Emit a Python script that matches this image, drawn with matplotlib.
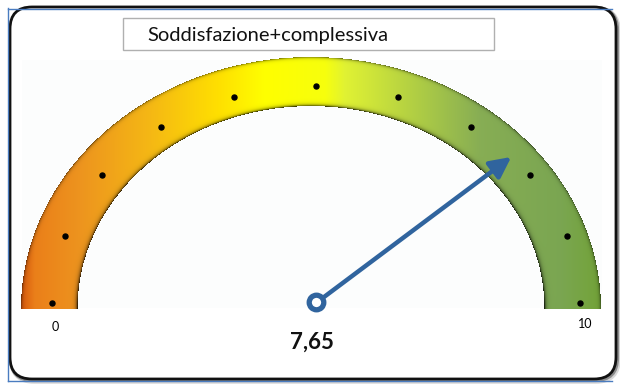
import matplotlib.pyplot as plt
import numpy as np
from matplotlib.patches import FancyBboxPatch, Rectangle

# gauge data
title = "Soddisfazione+complessiva"
value = 7.65
value_label = "7,65"
scale_min, scale_max = 0, 10
tick_values = list(range(0, 11))

W, H = 620, 384
fig = plt.figure(figsize=(W / 100, H / 100), dpi=100)
ax = fig.add_axes([0, 0, 1, 1])
ax.set_xlim(0, W)
ax.set_ylim(H, 0)
ax.axis("off")

# outer frame with soft shadow
for off, lw, a in [(2.0, 4.0, 0.15), (1.0, 3.0, 0.35)]:
    ax.add_patch(FancyBboxPatch((10 + off, 7 + off), 606, 372,
                                boxstyle="round,pad=0,rounding_size=22",
                                fill=False, ec="black", lw=lw, alpha=a, zorder=1))
ax.add_patch(FancyBboxPatch((10, 7), 606, 372, boxstyle="round,pad=0,rounding_size=22",
                            fc="white", ec="#111111", lw=2.0, zorder=1.5))
ax.plot([8, 8], [8, 381], color="#4a7cc0", lw=1.0, zorder=2)
ax.plot([8, 612], [8.5, 8.5], color="#4a7cc0", lw=1.0, zorder=2)
ax.plot([8, 612], [381, 381], color="#4a7cc0", lw=1.0, zorder=2)

# faint plot area
ax.add_patch(Rectangle((22, 60), 580, 248, fc="#fcfdfd", ec="none", zorder=2))

# title box
ax.add_patch(Rectangle((123, 18), 371, 32, fc="white", ec="#b0b0b0", lw=1.0, zorder=3))
ax.text(147, 35, title, fontsize=14.5, family="Lato", va="center", ha="left",
        color="#111111", zorder=4)

# gradient band (elliptical half ring)
cx, cy = 311.0, 309.0
ra, rb = 290.0, 252.0
inner = 0.805
xs = np.arange(0, W) + 0.5
ys = np.arange(0, H) + 0.5
X, Y = np.meshgrid(xs, ys)
rho = np.sqrt(((X - cx) / ra) ** 2 + ((Y - cy) / rb) ** 2)
stop_x = [21, 35, 80, 150, 220, 265, 325, 345, 420, 480, 560, 601]
stop_c = np.array([
    (0.85, 0.35, 0.05), (0.92, 0.50, 0.10), (0.93, 0.58, 0.12),
    (0.96, 0.72, 0.08), (1.00, 0.88, 0.00), (1.00, 1.00, 0.00),
    (0.97, 1.00, 0.05), (0.88, 0.95, 0.20), (0.68, 0.80, 0.27),
    (0.53, 0.68, 0.33), (0.48, 0.65, 0.32), (0.45, 0.64, 0.22),
])
rgb = np.stack([np.interp(X, stop_x, stop_c[:, k]) for k in range(3)], axis=-1)
s = np.clip((rho - inner) / (1 - inner), 0, 1)
shade = 1 - 0.8 * np.exp(-s / 0.03) - 0.5 * np.exp(-(1 - s) / 0.025)
shade = np.clip(shade, 0, 1)
rgb = rgb * shade[..., None]
band = (rho >= inner) & (rho <= 1.0) & (Y <= cy)
rgba = np.concatenate([rgb, band[..., None].astype(float)], axis=-1)
ax.imshow(rgba, extent=(0, W, H, 0), interpolation="bilinear", zorder=5)

# tick dots and needle share the pointer ellipse
px, py = 316.0, 303.0
pa, pb = 264.0, 217.0


def to_xy(v):
    ang = np.pi * (1 - (v - scale_min) / (scale_max - scale_min))
    return px + pa * np.cos(ang), py - pb * np.sin(ang)


dots = np.array([to_xy(v) for v in tick_values])
ax.plot(dots[:, 0], dots[:, 1], "o", color="black", ms=3.6, zorder=6)

needle = "#30649e"
tx, ty = to_xy(value)
ax.annotate("", xy=(tx, ty), xytext=(px, py),
            arrowprops=dict(arrowstyle="-|>,head_length=0.9,head_width=0.45",
                            color=needle, lw=3.2, shrinkA=0, shrinkB=0,
                            mutation_scale=14), zorder=7)
ax.plot([px], [py - 1], "o", ms=10.5, mfc="white", mec=needle, mew=3.8, zorder=8)

# labels
x0, _ = to_xy(scale_min)
x1, _ = to_xy(scale_max)
ax.text(x0 + 3, 327, str(scale_min), fontsize=9, family="Lato", ha="center", va="center")
ax.text(x1 + 5, 324, str(scale_max), fontsize=9, family="Lato", ha="center", va="center")
ax.text(312, 342, value_label, fontsize=16, family="Lato", fontweight="bold",
        ha="center", va="center", color="#111111")

fig.savefig("out.png", dpi=100)
